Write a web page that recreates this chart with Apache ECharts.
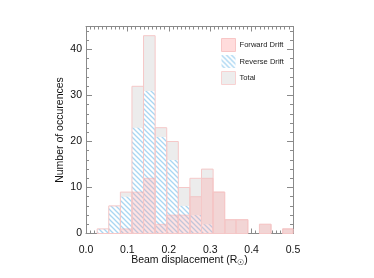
<!DOCTYPE html>
<html><head><meta charset="utf-8">
<script src="https://cdn.jsdelivr.net/npm/echarts@6/dist/echarts.min.js"></script>
<style>html,body{margin:0;padding:0;background:#fff}#c{width:374px;height:278px}</style>
</head><body><div id="c"></div>
<script>
const binEdges = [0.027,0.055,0.083,0.111,0.139,0.167,0.195,0.223,0.251,0.279,0.307,0.335,0.363,0.391,0.419,0.447,0.475,0.503];
const forwardDrift = [0,0,1,9,12,2,4,4,8,12,9,3,3,0,2,0,1];
const reverseDrift = [1,6,8,23,31,21,16,6,4,2,0,0,0,0,0,0,0];
const totalCounts  = [1,6,9,32,43,23,20,10,12,14,9,3,3,0,2,0,1];
const xTicks = [0.0,0.1,0.2,0.3,0.4,0.5];
const yTicks = [0,10,20,30,40];

function toBins(vals){ return vals.map((v,i)=>[binEdges[i],binEdges[i+1],v]); }

// hatch pattern
const pc = document.createElement('canvas');
pc.width = 5; pc.height = 5;
const g = pc.getContext('2d');
g.fillStyle = '#ffffff'; g.fillRect(0,0,5,5);
g.strokeStyle = '#a9d6f2'; g.lineWidth = 1.3;
g.beginPath();
g.moveTo(-1,-1); g.lineTo(6,6);
g.moveTo(-1,4); g.lineTo(1,6);
g.moveTo(4,-1); g.lineTo(6,1);
g.stroke();
const hatch = {image: pc, repeat: 'repeat'};

function makeRender(style){
  return function(params, api){
    const x0 = api.value(0), x1 = api.value(1), y = api.value(2);
    if (!y) return null;
    const p0 = api.coord([x0, y]);
    const p1 = api.coord([x1, 0]);
    const cs = params.coordSys;
    const shape = echarts.graphic.clipRectByRect(
      {x: p0[0], y: p0[1], width: p1[0]-p0[0], height: p1[1]-p0[1]},
      {x: cs.x, y: cs.y, width: cs.width, height: cs.height});
    if (!shape) return null;
    return {type:'rect', shape: shape, style: style};
  };
}

const axisCol = '#8a8a8a';
const font = 'Liberation Sans, Arial, Helvetica, sans-serif';
const chart = echarts.init(document.getElementById('c'), null, {renderer:'canvas'});

function xAx(pos, labels){
  return {
    type:'value', position: pos, min:0, max:0.5, interval:0.1,
    name: labels ? 'Beam displacement (R{sub|☉})' : '',
    nameLocation:'middle', nameGap:20, nameMoveOverlap:false,
    nameTextStyle:{color:'#111', fontSize:10.5, fontFamily:font,
      rich:{sub:{fontSize:8, verticalAlign:'bottom', padding:[5,0,0,0], color:'#111', fontFamily:font}}},
    axisLine:{show:true, onZero:false, lineStyle:{color:axisCol, width:1}},
    axisTick:{show:true, inside:true, length:5, lineStyle:{color:axisCol}},
    minorTick:{show:true, splitNumber:10, length:3, lineStyle:{color:axisCol}},
    splitLine:{show:false}, minorSplitLine:{show:false},
    axisLabel:{show:labels, color:'#111', fontSize:10.5, fontFamily:font, margin:11,
      formatter: v => v.toFixed(1)}
  };
}
function yAx(pos, labels){
  return {
    type:'value', position: pos, min:0, max:45, interval:10,
    name: labels ? 'Number of occurences' : '',
    nameLocation:'middle', nameGap:20, nameRotate:90, nameMoveOverlap:false,
    nameTextStyle:{color:'#111', fontSize:10.5, fontFamily:font},
    axisLine:{show:true, onZero:false, lineStyle:{color:axisCol, width:1}},
    axisTick:{show:true, inside:true, length:6, lineStyle:{color:axisCol}},
    minorTick:{show:true, splitNumber:5, length:3, lineStyle:{color:axisCol}},
    splitLine:{show:false}, minorSplitLine:{show:false},
    axisLabel:{show:labels, color:'#111', fontSize:10.5, fontFamily:font, margin:4,
      formatter: v => (yTicks.indexOf(v) >= 0 ? String(v) : '')}
  };
}

const totalFill = {fill:'#ececec'};
const totalEdge = {fill:null, stroke:'#f5c8c8', lineWidth:1};
const revStyle = {fill: hatch};
const fwdStyle = {fill:'rgba(255,160,160,0.3)', stroke:'rgba(245,170,170,0.5)', lineWidth:1};

chart.setOption({
  animation:false,
  backgroundColor:'#fff',
  grid:{left:86, right:81, top:26.5, bottom:44.5, containLabel:false},
  xAxis:[xAx('bottom', true), xAx('top', false)],
  yAxis:[yAx('left', true), yAx('right', false)],
  legend:{
    orient:'vertical', left:221, top:38, padding:0, itemWidth:14, itemHeight:13, itemGap:3,
    icon:'rect', selectedMode:false,
    textStyle:{color:'#222', fontSize:7.6, fontFamily:font, padding:[0,0,0,-1]},
    data:[
      {name:'Forward Drift', itemStyle:{color:'#ffdcdc', borderColor:'#f8c6c6', borderWidth:1}},
      {name:'Reverse Drift', itemStyle:{color:hatch, borderWidth:0}},
      {name:'Total', itemStyle:{color:'#ededed', borderColor:'#f8d2d2', borderWidth:1}}
    ]
  },
  series:[
    {type:'custom', name:'Total', renderItem:makeRender(totalFill), data:toBins(totalCounts),
     encode:{x:[0,1], y:2}, itemStyle:{color:'#ececec'}, z:1},
    {type:'custom', name:'Reverse Drift', renderItem:makeRender(revStyle), data:toBins(reverseDrift),
     encode:{x:[0,1], y:2}, itemStyle:{color:'#a9d6f2'}, z:2},
    {type:'custom', name:'Forward Drift', renderItem:makeRender(fwdStyle), data:toBins(forwardDrift),
     encode:{x:[0,1], y:2}, itemStyle:{color:'#ffd9d9'}, z:3},
    {type:'custom', name:'TotalEdge', renderItem:makeRender(totalEdge), data:toBins(totalCounts),
     encode:{x:[0,1], y:2}, z:4, silent:true}
  ]
});
</script>
</body></html>
